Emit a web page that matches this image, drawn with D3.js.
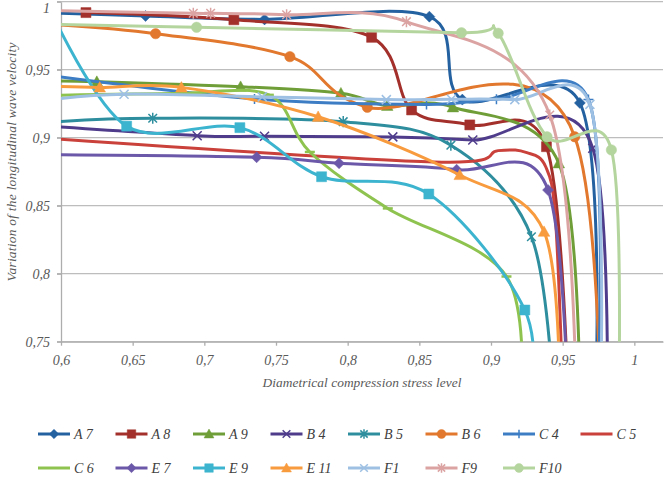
<!DOCTYPE html>
<html><head><meta charset="utf-8">
<script src="https://cdn.jsdelivr.net/npm/d3@7"></script>
<style>
body{margin:0;background:#fff}
</style>
</head><body>
<svg id="chart" width="669" height="483"></svg>
<script>
// ---- data (x = stress level, y = velocity ratio) ----
const categories = ["A 7","A 8","A 9","B 4","B 5","B 6","C 4","C 5","C 6","E 7","E 9","E 11","F1","F9","F10"];
const a7  = [[0.59,0.9918],[0.659,0.9895],[0.742,0.987],[0.857,0.989],[0.88,0.928],[0.962,0.9256],[0.9735,0.73]];
const a8  = [[0.6174,0.992],[0.7206,0.9867],[0.8167,0.9738],[0.8446,0.9204],[0.8852,0.9094],[0.9387,0.8934],[0.954,0.70]];
const a9  = [[0.59,0.9418],[0.625,0.9412],[0.7253,0.9375],[0.7953,0.9327],[0.8276,0.9235],[0.8734,0.9224],[0.9473,0.8812],[0.962,0.70]];
const b4  = [[0.59,0.9085],[0.695,0.9015],[0.742,0.901],[0.8315,0.9006],[0.8873,0.8983],[0.971,0.8923],[0.980,0.60]];
const b5  = [[0.59,0.9112],[0.664,0.9143],[0.7969,0.9118],[0.872,0.8945],[0.9282,0.8272],[0.944,0.70]];
const b6  = [[0.59,0.9835],[0.666,0.9765],[0.7597,0.9596],[0.8137,0.9224],[0.9584,0.9007],[0.9762,0.45]];
const c4  = [[0.59,0.946],[0.735,0.9285],[0.855,0.9245],[0.9038,0.9283],[0.968,0.928],[0.9755,0.745]];
const c5  = [[0.59,0.8995],[0.86,0.8822],[0.905,0.8905],[0.925,0.889],[0.938,0.879],[0.945,0.84],[0.9505,0.70]];
const c6  = [[0.59,0.931],[0.68,0.9325],[0.745,0.9315],[0.7736,0.8895],[0.828,0.848],[0.9108,0.798],[0.921,0.70]];
const e7  = [[0.59,0.8875],[0.7365,0.8856],[0.794,0.8812],[0.876,0.8765],[0.9398,0.8615],[0.955,0.65]];
const e9  = [[0.593,0.993],[0.6458,0.9085],[0.7248,0.9074],[0.7818,0.8713],[0.8566,0.8586],[0.9236,0.7733],[0.927,0.70]];
const e11 = [[0.59,0.938],[0.627,0.937],[0.684,0.937],[0.7794,0.9154],[0.8782,0.8726],[0.937,0.8309],[0.948,0.70]];
const f1  = [[0.59,0.9275],[0.644,0.932],[0.7404,0.930],[0.827,0.928],[0.8724,0.9283],[0.9166,0.928],[0.969,0.9245],[0.977,0.745]];
const f9  = [[0.59,0.9935],[0.6923,0.9915],[0.7044,0.9915],[0.7574,0.9904],[0.841,0.9853],[0.941,0.9167],[0.96,0.65]];
const f10 = [[0.59,0.9835],[0.6946,0.9812],[0.8794,0.9772],[0.905,0.9768],[0.9391,0.9007],[0.984,0.891],[0.989,0.70]];
const seriesValues = [a7,a8,a9,b4,b5,b6,c4,c5,c6,e7,e9,e11,f1,f9,f10];
const xTickValues = [0.6,0.65,0.7,0.75,0.8,0.85,0.9,0.95,1];
const yTickValues = [0.75,0.8,0.85,0.9,0.95,1];
const xTitle = "Diametrical compression stress level";
const yTitle = "Variation of the longitudinal wave velocity";

// ---- style ----
const colors = ["#2461A0","#A3302B","#6F9E38","#4F3D8C","#2E8E9E","#E1782D","#3C7DC4","#C9413A",
                "#8FC350","#6C58A8","#3DB4CF","#F89B3E","#9EC0E3","#DCA3A3","#B5D59E"];
const markerKinds = ["diamond","square","triangle","x","star","circle","plus","none",
                     "dash","diamond","square","triangle","x","star","circle"];

// pick an installed serif face (Garamond-like look in the original)
function pickFont(cands) {
  const ctx = document.createElement("canvas").getContext("2d");
  const probe = "Variation of the wave 0,95 ABC";
  ctx.font = "italic 40px monospace"; const base = ctx.measureText(probe).width;
  for (const f of cands) {
    ctx.font = `italic 40px "${f}", monospace`;
    if (Math.abs(ctx.measureText(probe).width - base) > 1) return `"${f}", serif`;
  }
  return "serif";
}
const FONT = pickFont(["Liberation Serif", "DejaVu Serif", "Noto Serif", "Times New Roman"]);

const plotL = 61, plotR = 663, plotT = 1.7, plotB = 341.7;
const x = d3.scaleLinear().domain([0.6, 1.02]).range([plotL, plotR]);
const y = d3.scaleLinear().domain([0.75, 1]).range([plotB, plotT]);
const fmt = d => String(d).replace(".", ",");

const svg = d3.select("#chart").style("font-family", FONT).style("font-style", "italic");

// gridlines
svg.append("g").selectAll("line").data(yTickValues).join("line")
  .attr("x1", plotL - 4).attr("x2", plotR)
  .attr("y1", d => y(d)).attr("y2", d => y(d))
  .attr("stroke", "#BDBDBD").attr("stroke-width", 1.3);

// axes
const gx = svg.append("g").attr("transform", `translate(0,${plotB})`)
  .call(d3.axisBottom(x).tickValues(xTickValues).tickFormat(fmt).tickSizeInner(4).tickSizeOuter(0).tickPadding(9));
const gy = svg.append("g").attr("transform", `translate(${plotL},0)`)
  .call(d3.axisLeft(y).tickValues(yTickValues).tickFormat(fmt).tickSizeInner(4).tickSizeOuter(0).tickPadding(7));
[gx, gy].forEach(g => {
  g.attr("font-family", null).attr("font-size", null);
  g.select(".domain").attr("stroke", "#ADADAD").attr("stroke-width", 1.3);
  g.selectAll(".tick line").attr("stroke", "#ADADAD").attr("stroke-width", 1.3);
  g.selectAll(".tick text").attr("font-size", 14).attr("fill", "#595959")
    .style("font-family", FONT).style("font-style", "italic");
});
// top label "1" sits at the very edge: nudge it inside the picture
gy.selectAll(".tick text").filter(d => d === 1).attr("dy", "0.75em");

// titles
svg.append("text").attr("x", (plotL + plotR) / 2).attr("y", 387).attr("text-anchor", "middle")
  .attr("font-size", 13.4).attr("fill", "#595959").attr("textLength", 199).text(xTitle);
svg.append("text").attr("transform", `translate(16,162) rotate(-90)`).attr("text-anchor", "middle")
  .attr("font-size", 13.4).attr("fill", "#595959").attr("textLength", 239).text(yTitle);

// markers
function markerPath(kind, s) {
  switch (kind) {
    case "diamond": return `M0,${-s}L${s},0L0,${s}L${-s},0Z`;
    case "square": return `M${-s},${-s}H${s}V${s}H${-s}Z`;
    case "triangle": return `M0,${-s}L${s},${s*0.8}L${-s},${s*0.8}Z`;
    case "circle": return `M${s},0A${s},${s} 0 1,1 ${-s},0A${s},${s} 0 1,1 ${s},0Z`;
    case "x": return `M${-s},${-s}L${s},${s}M${-s},${s}L${s},${-s}`;
    case "star": return `M${-s},${-s}L${s},${s}M${-s},${s}L${s},${-s}M0,${-s*1.3}V${s*1.3}`;
    case "plus": return `M${-s},0H${s}M0,${-s}V${s}`;
    case "dash": return `M${-s},0H${s}`;
    default: return "";
  }
}
const markerSize = {diamond:5.5, square:5, triangle:5.8, circle:5.2, x:4.5, star:4.3, plus:5, dash:5, none:0};
const filled = k => ["diamond","square","triangle","circle"].includes(k);

svg.append("defs").append("clipPath").attr("id", "plot")
  .append("rect").attr("x", plotL).attr("y", -20).attr("width", plotR - plotL).attr("height", plotB + 20);

const line = d3.line().x(d => x(d[0])).y(d => y(d[1])).curve(d3.curveCardinal.tension(0));
const plot = svg.append("g").attr("clip-path", "url(#plot)");

seriesValues.forEach((vals, i) => {
  const g = plot.append("g");
  g.append("path").attr("d", line(vals)).attr("fill", "none")
    .attr("stroke", colors[i]).attr("stroke-width", 3).attr("stroke-linejoin", "round");
  const k = markerKinds[i];
  if (k !== "none") {
    g.selectAll("path.m").data(vals).join("path").attr("class", "m")
      .attr("transform", d => `translate(${x(d[0])},${y(d[1])})`)
      .attr("d", markerPath(k, markerSize[k]))
      .attr("fill", filled(k) ? colors[i] : "none")
      .attr("stroke", colors[i]).attr("stroke-width", filled(k) ? 0.5 : (k === "dash" ? 2.5 : 1.5));
  }
});

// legend
const leg = svg.append("g");
categories.forEach((name, i) => {
  const row = i < 8 ? 0 : 1, col = i < 8 ? i : i - 8;
  const x0 = 38 + col * 77.5, yy = row === 0 ? 434 : 468;
  const g = leg.append("g").attr("transform", `translate(${x0},${yy})`);
  g.append("line").attr("x1", 0).attr("x2", 32).attr("stroke", colors[i]).attr("stroke-width", 3);
  const k = markerKinds[i];
  if (k !== "none" && k !== "dash") {
    g.append("path").attr("transform", "translate(16,0)")
      .attr("d", markerPath(k, markerSize[k] * 0.85))
      .attr("fill", filled(k) ? colors[i] : "none")
      .attr("stroke", colors[i]).attr("stroke-width", filled(k) ? 0.5 : 1.5);
  }
  g.append("text").attr("x", 36).attr("y", 5).attr("font-size", 14).attr("fill", "#404040").text(name);
});
</script>
</body></html>
